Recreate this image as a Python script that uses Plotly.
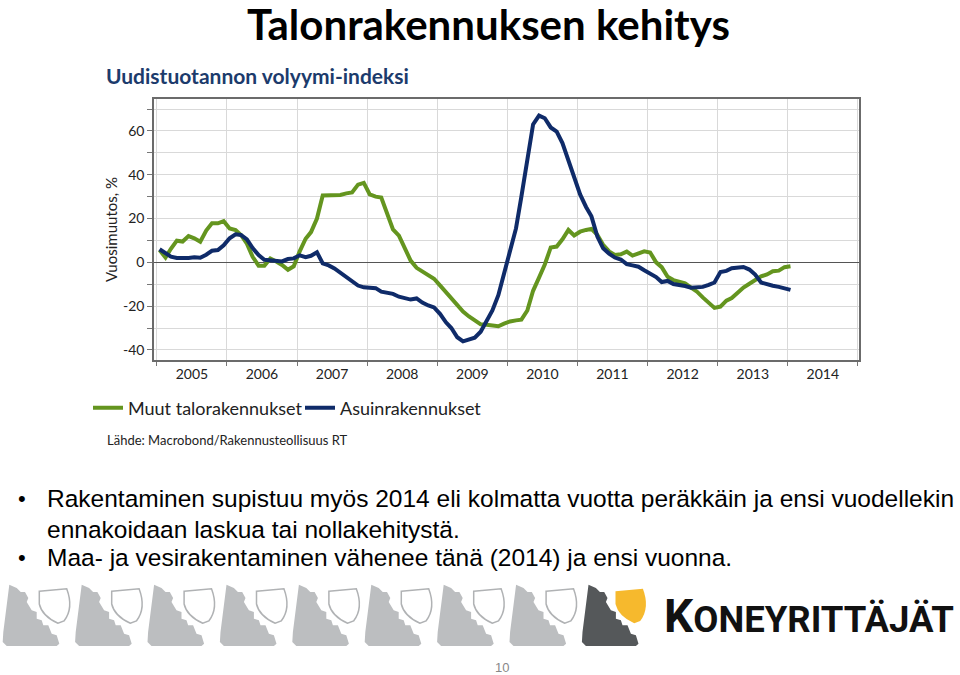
import plotly.graph_objects as go
import pandas as pd

# ---------------- data ----------------
start_month = "2005-01-01"
n_months = 109
months = pd.date_range(start_month, periods=n_months, freq="MS") + pd.Timedelta(days=14)

series_names = ["Muut talorakennukset", "Asuinrakennukset"]

muut_talorakennukset = [
    5.6, 2.2, 6.2, 9.9, 9.5, 12.0, 11.0, 9.4, 14.5, 17.8, 17.8, 18.8,
    15.5, 14.8, 12.5, 8.5, 2.5, -1.5, -1.5, 1.8, 0.4, -1.2, -3.4, -1.8,
    5.0, 10.8, 13.8, 20.0, 30.5, 30.7, 31.0, 30.8, 31.5, 31.9, 35.5, 36.3,
    31.0, 30.0, 29.6, 21.5, 15.0, 12.2, 6.5, 0.8, -2.5, -4.0, -5.8, -7.5,
    -10.5, -13.7, -16.5, -19.3, -22.5, -24.7, -26.3, -28.3, -28.5, -28.8, -29.2, -28.0,
    -27.0, -26.5, -26.2, -22.0, -13.0, -7.0, -1.0, 6.8, 7.2, 10.5, 14.8, 12.3,
    14.0, 14.8, 15.3, 12.5, 8.0, 5.0, 3.4, 3.7, 4.9, 3.1, 4.0, 5.0,
    4.5, 0.0, -2.2, -6.6, -8.1, -9.0, -9.6, -11.5, -13.4, -16.0, -18.7, -20.8,
    -20.2, -17.5, -16.3, -14.0, -11.5, -9.8, -8.2, -6.4, -5.5, -4.1, -3.8, -2.2,
    -1.8,
]

asuinrakennukset = [
    6.0, 4.0, 2.6, 2.0, 1.8, 2.0, 2.3, 2.1, 3.5, 5.3, 5.6, 7.8,
    11.0, 12.8, 12.5, 10.5, 6.5, 3.3, 1.2, 0.8, 0.8, 0.4, 1.5, 1.8,
    3.2, 2.4, 3.0, 4.6, -0.5, -1.4, -2.8, -4.8, -6.8, -8.8, -10.6, -11.4,
    -11.5, -11.8, -13.4, -13.7, -14.4, -15.7, -16.4, -17.0, -16.5, -18.4, -19.7, -20.6,
    -23.5, -27.4, -30.0, -34.2, -36.1, -35.4, -34.4, -31.7, -27.1, -22.0, -15.0, -5.5,
    4.9, 15.5, 30.0, 47.5, 63.0, 67.0, 65.8, 61.6, 59.7, 54.5, 46.5, 38.7,
    31.0, 25.3, 21.0, 11.8, 6.4, 4.0, 2.2, 1.3, -0.8, -1.4, -2.0, -3.6,
    -5.3, -6.7, -9.0, -8.5, -9.9, -10.3, -10.8, -11.6, -11.6, -11.2, -10.3, -9.2,
    -4.4, -3.9, -2.7, -2.4, -2.1, -3.3, -5.6, -9.2, -10.1, -10.7, -11.2, -11.9,
    -12.6,
]

y_tick_values = list(range(-40, 71, 10))
y_tick_labels = [str(v) if v % 20 == 0 else "" for v in y_tick_values]

slide_title = "Talonrakennuksen kehitys"
chart_title = "Uudistuotannon volyymi-indeksi"
y_title = "Vuosimuutos, %"
source_text = "Lähde: Macrobond/Rakennusteollisuus RT"
bullets = [
    "Rakentaminen supistuu myös 2014 eli kolmatta vuotta peräkkäin ja ensi vuodellekin",
    "ennakoidaan laskua tai nollakehitystä.",
    "Maa- ja vesirakentaminen vähenee tänä (2014) ja ensi vuonna.",
]
page_number = "10"
brand = "KONEYRITTÄJÄT"

# ---------------- style ----------------
W, H = 960, 675
GREEN = "#64951f"
BLUE = "#0f2b69"
CHART_FONT = "Lato"


def px(x):
    return x / W


def py(y):
    return 1 - y / H


fig = go.Figure()
fig.add_trace(go.Scatter(x=months, y=muut_talorakennukset, name=series_names[0],
                         mode="lines", line=dict(color=GREEN, width=4)))
fig.add_trace(go.Scatter(x=months, y=asuinrakennukset, name=series_names[1],
                         mode="lines", line=dict(color=BLUE, width=4)))

fig.update_layout(
    width=W, height=H,
    margin=dict(l=0, r=0, t=0, b=0),
    paper_bgcolor="white", plot_bgcolor="white",
    font=dict(family=CHART_FONT, color="#222"),
    showlegend=True,
    legend=dict(orientation="h", x=px(88), y=py(408), xanchor="left", yanchor="middle",
                font=dict(family=CHART_FONT, size=18, color="#222"),
                bgcolor="rgba(0,0,0,0)", itemwidth=30, tracegroupgap=0,
                entrywidth=167, entrywidthmode="pixels"),
    xaxis=dict(
        type="date", domain=[px(154), px(859)],
        range=["2004-12-17", "2015-01-07"],
        dtick="M12", tick0="2005-01-01", tickformat="%Y", ticklabelmode="period",
        ticks="outside", ticklen=4, tickcolor="#777", ticklabelstandoff=-4,
        showgrid=True, gridcolor="#d9d9d9", gridwidth=1,
        showline=True, mirror=True, linecolor="#6b6b6b", linewidth=1.5,
        tickfont=dict(family=CHART_FONT, size=14, color="#222"),
    ),
    yaxis=dict(
        domain=[py(360), py(99)], range=[-44.6, 74.6],
        tickvals=y_tick_values, ticktext=y_tick_labels,
        ticks="outside", ticklen=5, tickcolor="#777",
        showgrid=True, gridcolor="#d9d9d9", gridwidth=1,
        zeroline=True, zerolinecolor="#555", zerolinewidth=1.2,
        showline=True, mirror=True, linecolor="#6b6b6b", linewidth=1.5,
        tickfont=dict(family=CHART_FONT, size=14, color="#222"),
        title=dict(text=y_title, standoff=2, font=dict(family=CHART_FONT, size=15, color="#222")),
    ),
)

ann = []
ann.append(dict(text="<b>" + slide_title + "</b>", x=px(488), y=py(24), xref="paper", yref="paper",
                xanchor="center", yanchor="middle", showarrow=False,
                font=dict(family="Lato", size=42, color="#000")))
ann.append(dict(text="<b>" + chart_title + "</b>", x=px(104), y=py(76), xref="paper", yref="paper",
                xanchor="left", yanchor="middle", showarrow=False,
                font=dict(family="Lato", size=21, color="#1c3b6c")))
ann.append(dict(text=source_text, x=px(105), y=py(440), xref="paper", yref="paper",
                xanchor="left", yanchor="middle", showarrow=False,
                font=dict(family="Lato", size=13, color="#222")))

bullet_rows = [(True, bullets[0], 498), (False, bullets[1], 529), (True, bullets[2], 557)]
for has_bullet, txt, yy in bullet_rows:
    if has_bullet:
        ann.append(dict(text="•", x=px(16), y=py(yy), xref="paper", yref="paper",
                        xanchor="left", yanchor="middle", showarrow=False,
                        font=dict(family="Liberation Sans", size=22, color="#000")))
    ann.append(dict(text=txt, x=px(45), y=py(yy), xref="paper", yref="paper",
                    xanchor="left", yanchor="middle", showarrow=False,
                    font=dict(family="Liberation Sans", size=24.5, color="#000")))

ann.append(dict(text=page_number, x=px(502), y=py(667), xref="paper", yref="paper",
                xanchor="center", yanchor="middle", showarrow=False,
                font=dict(family="Liberation Sans", size=13, color="#888")))
ann.append(dict(text="<span style='font-size:46px'>" + brand[0] + "</span>" + brand[1:],
                x=px(662), y=py(616), xref="paper", yref="paper",
                xanchor="left", yanchor="middle", showarrow=False,
                font=dict(family="Roboto", size=36.5, color="#111", weight="bold")))
fig.update_layout(annotations=ann)

# ---------------- logo icons (decoration) ----------------
stair = [(9.3, 2.7), (16.7, 6), (20.7, 10), (25, 10), (28.3, 16), (26.7, 20), (31.7, 28.3),
         (36.7, 30), (36.7, 36.7), (41.7, 38.3), (43.3, 43.3), (48.3, 43.3), (51.7, 51.7),
         (56.7, 53.3), (59.3, 61.7), (56.7, 64), (6.7, 64), (2.7, 60), (3.3, 50)]


def path_from(points, ox, oy):
    pts = [f"{px(ox + a):.5f},{py(oy + b):.5f}" for a, b in points]
    return "M " + " L ".join(pts) + " Z"


def shield_path(ox, oy):
    p = lambda a, b: f"{px(ox + a):.5f},{py(oy + b):.5f}"
    return (f"M {p(39.3, 7.3)} L {p(66.7, 4.7)} Q {p(74, 24)} {p(64, 37)} "
            f"L {p(58, 39.3)} Q {p(42, 32)} {p(39.3, 20)} Z")


shapes = []
for k in range(9):
    ox, oy = k * 72.4, 582
    dark = k == 8
    shapes.append(dict(type="path", xref="paper", yref="paper", path=path_from(stair, ox, oy),
                       fillcolor="#55585a" if dark else "#bcbec0", line=dict(width=0)))
    if dark:
        shapes.append(dict(type="path", xref="paper", yref="paper", path=shield_path(ox - 3, oy + 2),
                           fillcolor="#f6b92d", line=dict(width=0)))
    else:
        shapes.append(dict(type="path", xref="paper", yref="paper", path=shield_path(ox, oy + 2),
                           fillcolor="white", line=dict(color="#b0b2b4", width=1.5)))
fig.update_layout(shapes=shapes)

fig.write_html("out.html", config={"displayModeBar": False},
               post_script="document.body.style.margin='0px';")
